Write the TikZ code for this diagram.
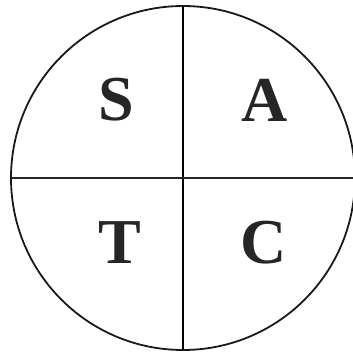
\documentclass[tikz,border=0pt]{standalone}
\usepackage{fontspec}
\setmainfont{Liberation Serif}
\begin{document}
\begin{tikzpicture}[x=1pt,y=1pt,
  letter/.style={inner sep=0pt, font=\fontsize{64}{64}\selectfont\bfseries, text=black!85},
  rim/.style={line width=1.8pt, draw=black!90}]
\useasboundingbox (0,0) rectangle (353,354);
\coordinate (o) at (183,176);
\draw[rim] (o) circle[radius=172];
\coordinate (top) at (183,348);
\coordinate (bot) at (183,4);
\coordinate (lft) at (11,176);
\coordinate (rgt) at (355,176);
\draw[line width=1.6pt] (top) -- (bot);
\draw[line width=1.3pt, draw=black!85] (lft) -- (rgt);
\node[letter] (S) at (116,254) {S};
\node[letter] (A) at (265,254) {A};
\node[letter] (T) at (120,111) {T};
\node[letter] (C) at (264,111) {C};
\end{tikzpicture}
\end{document}
